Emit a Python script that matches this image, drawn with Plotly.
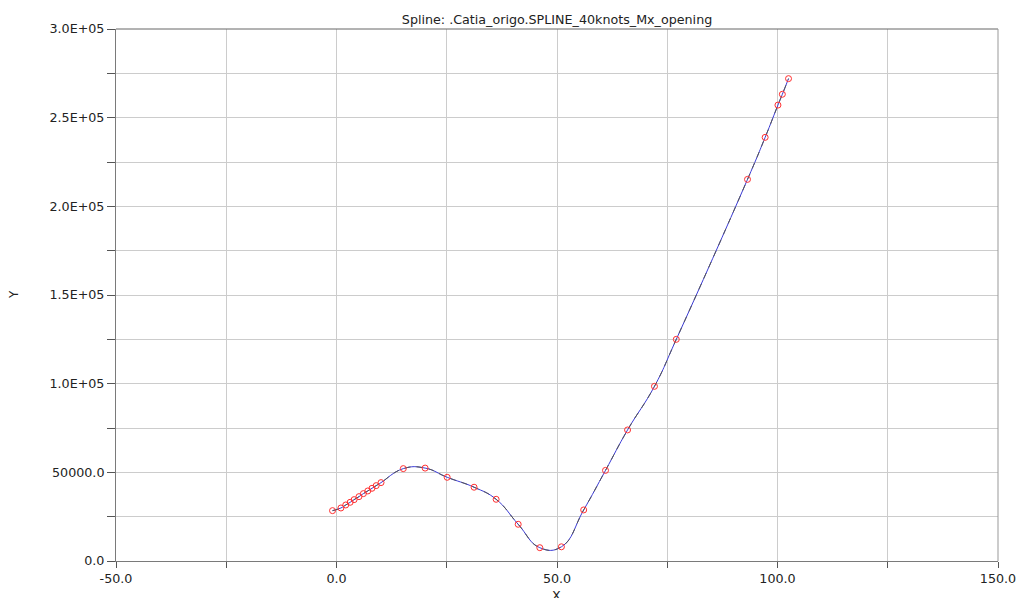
import plotly.graph_objects as go

# Knot data
x_vals = [-0.9, 1.0, 2.1, 3.1, 4.0, 5.1, 6.1, 7.1, 8.05, 9.0, 10.1,
          15.15, 20.1, 25.1, 31.2, 36.2, 41.2, 46.1, 51.0,
          56.05, 61.0, 66.0, 72.1, 77.05, 93.2, 97.2, 100.1, 101.1, 102.5]
y_vals = [28400, 29900, 31600, 33100, 34600, 36300, 38000, 39500, 41000, 42500, 44200,
          52100, 52400, 47200, 41600, 34800, 20700, 7500, 8000,
          28800, 51100, 73900, 98500, 125000, 215200, 238900, 257100, 263200, 272000]

title_text = "Spline: .Catia_origo.SPLINE_40knots_Mx_opening"

x_ticks = [-50, -25, 0, 25, 50, 75, 100, 125, 150]
x_ticktext = ["-50.0", "", "0.0", "", "50.0", "", "100.0", "", "150.0"]
y_ticks = [0, 25000, 50000, 75000, 100000, 125000, 150000, 175000, 200000, 225000, 250000, 275000, 300000]
y_ticktext = ["0.0", "", "50000.0", "", "1.0E+05", "", "1.5E+05", "", "2.0E+05", "", "2.5E+05", "", "3.0E+05"]

font_family = "DejaVu Sans, Verdana, sans-serif"
fs = 12.7

fig = go.Figure()
fig.add_trace(go.Scatter(
    x=x_vals, y=y_vals, mode="lines",
    line=dict(color="#3b3bd6", width=1, shape="spline", smoothing=1.3),
    hoverinfo="skip", showlegend=False))
fig.add_trace(go.Scatter(
    x=x_vals, y=y_vals, mode="lines",
    line=dict(color="#555555", width=1, shape="spline", smoothing=1.3, dash="6px,6px"),
    hoverinfo="skip", showlegend=False))
fig.add_trace(go.Scatter(
    x=x_vals, y=y_vals, mode="markers",
    marker=dict(symbol="circle-open", size=6, color="#ff3030", line=dict(width=1, color="#ff3030")),
    showlegend=False))

fig.update_layout(
    width=1018, height=598,
    paper_bgcolor="white", plot_bgcolor="white",
    margin=dict(l=116, r=20, t=29, b=37, autoexpand=False),
    font=dict(family=font_family, size=fs, color="#222222"),
    title=dict(text=title_text, x=0.5472, xanchor="center", y=0.975, yanchor="top",
               font=dict(size=fs, color="#222222")),
    showlegend=False,
)
fig.update_xaxes(
    range=[-50, 150], tickvals=x_ticks, ticktext=x_ticktext,
    showgrid=True, gridcolor="#cccccc", gridwidth=1,
    showline=True, linecolor="#7a7a7a", linewidth=1, mirror=False,
    ticks="outside", ticklen=6, tickcolor="#555555",
    zeroline=False, automargin=False,
)
fig.update_yaxes(
    range=[0, 300000], tickvals=y_ticks, ticktext=y_ticktext,
    showgrid=True, gridcolor="#cccccc", gridwidth=1,
    showline=True, linecolor="#7a7a7a", linewidth=1,
    ticks="outside", ticklen=8, tickcolor="#555555",
    zeroline=False, automargin=False,
)
# axis titles as annotations
fig.add_annotation(text="X", xref="paper", yref="paper", x=0.4995, y=0, yshift=-25,
                   xanchor="center", yanchor="top", showarrow=False, font=dict(size=fs))
fig.add_annotation(text="Y", xref="paper", yref="paper", x=0, xshift=-102, y=0.5,
                   xanchor="center", yanchor="middle", textangle=-90, showarrow=False,
                   font=dict(size=fs - 1))
# top and right frame lines
fig.add_shape(type="line", xref="paper", yref="paper", x0=0, x1=1, y0=1, y1=1,
              line=dict(color="#666666", width=1))
fig.add_shape(type="line", xref="paper", yref="paper", x0=1, x1=1, y0=0, y1=1,
              line=dict(color="#999999", width=1))

fig.write_html("out.html", config={"displayModeBar": False},
               post_script="document.body.style.margin='0';document.body.style.overflow='hidden';")
